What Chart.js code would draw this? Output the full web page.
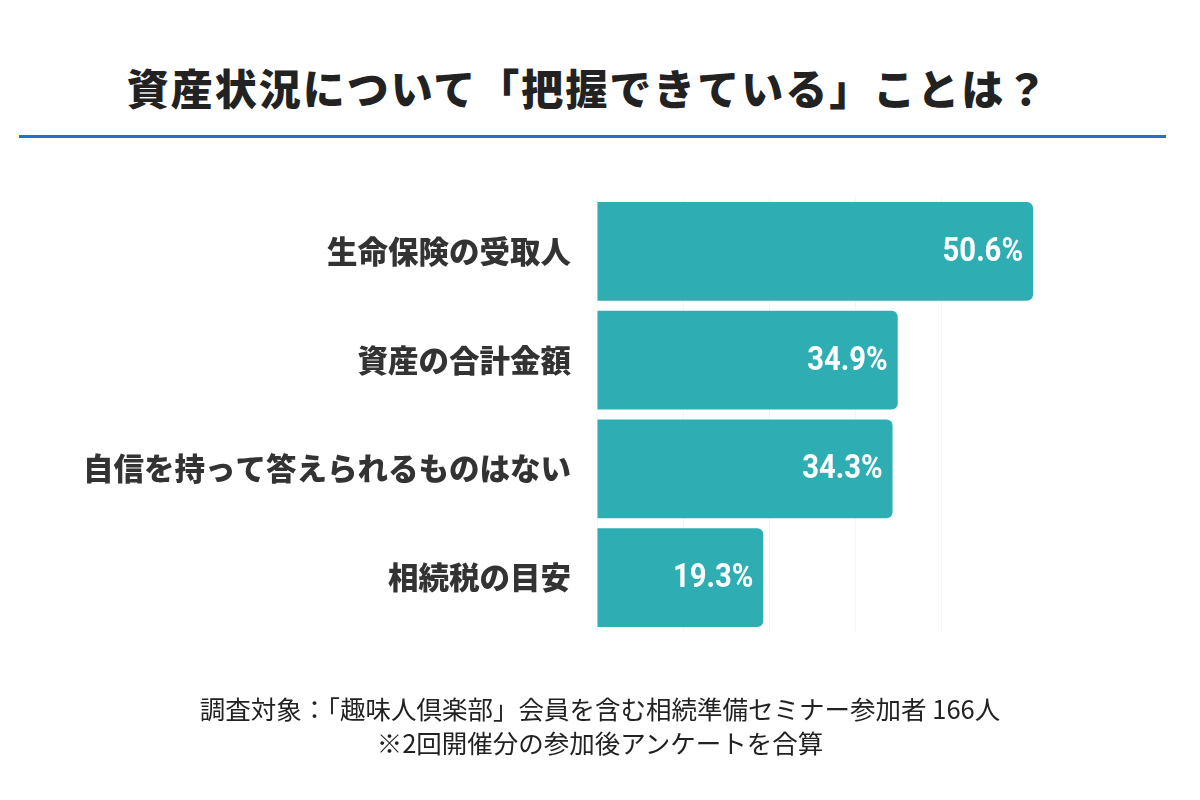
<!DOCTYPE html>
<html lang="ja">
<head>
<meta charset="utf-8">
<script src="https://cdn.jsdelivr.net/npm/chart.js@4"></script>
<style>
body{margin:0;background:#fff;font-family:"Noto Sans CJK JP",sans-serif}
#wrap{position:relative;width:1200px;height:800px;overflow:hidden}
#title{position:absolute;left:0;top:56px;width:1176px;text-align:center;font-size:42px;font-weight:900;color:#222;letter-spacing:2px}
#rule{position:absolute;left:19px;top:135px;width:1147px;height:3px;background:#1a74c9}
#note{position:absolute;left:0;top:691px;width:1200px;text-align:center;font-size:25.5px;color:#222;line-height:34px}
canvas{position:absolute;left:0;top:0}
</style>
</head>
<body>
<div id="wrap">
<div id="title">資産状況について「把握できている」ことは？</div>
<div id="rule"></div>
<canvas id="chart" width="1200" height="800"></canvas>
<div id="note">調査対象：「趣味人倶楽部」会員を含む相続準備セミナー参加者 166人<br>※2回開催分の参加後アンケートを合算</div>
</div>
<script>

const categories=['生命保険の受取人','資産の合計金額','自信を持って答えられるものはない','相続税の目安']
const values=[50.6,34.9,34.3,19.3]

// draw value labels inside bar ends, squeezed a little to look condensed
const valueLabels={
id:'valueLabels',
afterDatasetsDraw(chart){
const ctx=chart.ctx
const meta=chart.getDatasetMeta(0)
ctx.save()
ctx.fillStyle='#fff'
ctx.font='bold 34px Roboto,sans-serif'
ctx.textAlign='right'
ctx.textBaseline='middle'
meta.data.forEach((bar,i)=>{
ctx.save()
ctx.translate(bar.x-10,bar.y+1)
ctx.scale(0.86,1)
ctx.fillText(values[i].toFixed(1)+'%',0,0)
ctx.restore()
})
ctx.restore()
}
}

new Chart(
document.getElementById('chart'),
{
type:'bar',
data:{
labels:categories,
datasets:[{
data:values,
backgroundColor:'#2eadb3',
borderRadius:{topLeft:0,bottomLeft:0,topRight:6,bottomRight:6},
borderSkipped:false,
barPercentage:0.91,
categoryPercentage:1
}]
},
options:{
indexAxis:'y',
responsive:false,
animation:false,
layout:{padding:{left:0,top:197,right:86,bottom:168}},
plugins:{legend:{display:false},tooltip:{enabled:false}},
scales:{
x:{
min:0,
max:60,
ticks:{display:false,stepSize:10},
grid:{
color:c=>c.tick&&c.tick.value<=40?'#f4f4f8':'rgba(0,0,0,0)',
drawTicks:false
},
border:{display:false}
},
y:{
afterFit(scale){scale.width=597},
ticks:{
color:'#333',
padding:18,
font:{family:'"Noto Sans CJK JP"',size:30.5,weight:900}
},
grid:{display:false},
border:{display:false}
}
}
},
plugins:[valueLabels]
})

</script>
</body>
</html>
